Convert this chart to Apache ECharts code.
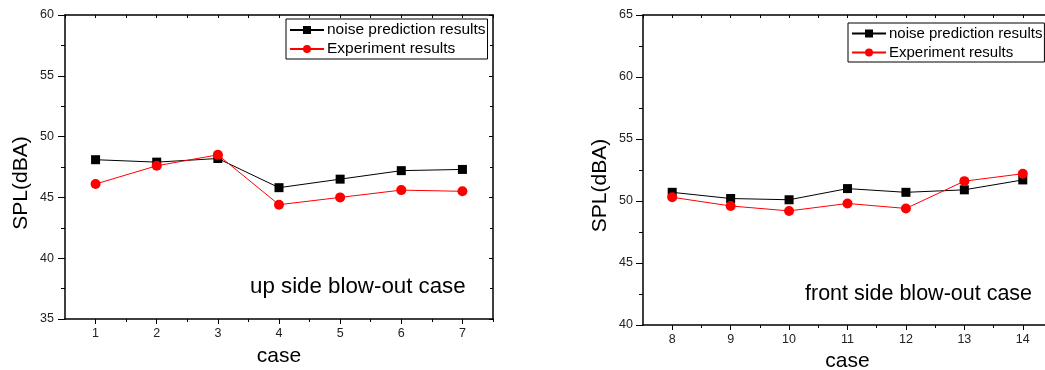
<!DOCTYPE html>
<html>
<head>
<meta charset="utf-8">
<script src="https://cdn.jsdelivr.net/npm/echarts@6/dist/echarts.min.js"></script>
<style>
html,body{margin:0;padding:0;background:#fff;}
#chart{width:1045px;height:370px;}
</style>
</head>
<body>
<div id="chart"></div>
<script>
// ---- data ----
var casesUp = [1, 2, 3, 4, 5, 6, 7];
var predictionUp = [48.1, 47.9, 48.2, 45.8, 46.5, 47.2, 47.3];
var experimentUp = [46.1, 47.6, 48.5, 44.4, 45.0, 45.6, 45.5];

var casesFront = [8, 9, 10, 11, 12, 13, 14];
var predictionFront = [50.7, 50.2, 50.1, 51.0, 50.7, 50.9, 51.7];
var experimentFront = [50.3, 49.6, 49.2, 49.8, 49.4, 51.6, 52.2];

var yRangeUp = [35, 60];
var yRangeFront = [40, 65];
var xRangeUp = [0.5, 7.5];
var xRangeFront = [7.5, 14.5];
var seriesNames = ['noise prediction results', 'Experiment results'];
var yTitle = 'SPL(dBA)';
var xTitle = 'case';
var noteUp = 'up side blow-out case';
var noteFront = 'front side blow-out case';

var FONT = 'Liberation Sans, Arial, sans-serif';
var AX = {color: '#000', width: 1.5};

function halves(cats) {
  var out = [cats[0] - 0.5];
  cats.forEach(function (c) { out.push(c, c + 0.5); });
  return out;
}
function mids(cats) {
  return cats.map(function (c) { return c + 0.5; });
}

function xAxesFor(gridIndex, cats, range, nameGap) {
  return [
    { // main axis with labels
      type: 'value', gridIndex: gridIndex, position: 'bottom',
      min: range[0], max: range[1],
      axisLine: {show: true, lineStyle: AX},
      axisTick: {show: true, customValues: cats, length: 5, lineStyle: {color: '#000', width: 1}},
      axisLabel: {customValues: cats, color: '#222', fontSize: 12.5, fontFamily: FONT, margin: 8},
      splitLine: {show: false},
      name: xTitle, nameLocation: 'middle', nameGap: nameGap,
      nameTextStyle: {color: '#000', fontSize: 21, fontFamily: FONT}
    },
    { // minor ticks between cases
      type: 'value', gridIndex: gridIndex, position: 'bottom',
      min: range[0], max: range[1],
      axisLine: {show: false},
      axisTick: {show: true, customValues: mids(cats), length: 3, lineStyle: {color: '#000', width: 1}},
      axisLabel: {show: false}, splitLine: {show: false}
    },
    { // top frame with inward ticks
      type: 'value', gridIndex: gridIndex, position: 'top',
      min: range[0], max: range[1],
      axisLine: {show: true, lineStyle: AX},
      axisTick: {show: true, inside: true, customValues: halves(cats), length: 3, lineStyle: {color: '#000', width: 1}},
      axisLabel: {show: false}, splitLine: {show: false}
    }
  ];
}

function yAxesFor(gridIndex, range, labelMargin) {
  return [
    {
      type: 'value', gridIndex: gridIndex, position: 'left',
      min: range[0], max: range[1], interval: 5,
      axisLine: {show: true, lineStyle: AX},
      axisTick: {length: 7, lineStyle: {color: '#000', width: 1}},
      minorTick: {show: true, splitNumber: 2, length: 4, lineStyle: {color: '#000', width: 1}},
      axisLabel: {color: '#222', fontSize: 12.5, fontFamily: FONT, margin: labelMargin},
      splitLine: {show: false}
    },
    {
      type: 'value', gridIndex: gridIndex, position: 'right',
      min: range[0], max: range[1], interval: 5,
      axisLine: {show: true, lineStyle: AX},
      axisTick: {inside: true, length: 4, lineStyle: {color: '#000', width: 1}},
      minorTick: {show: true, splitNumber: 2, length: 3, lineStyle: {color: '#000', width: 1}},
      axisLabel: {show: false}, splitLine: {show: false}
    }
  ];
}

function pairs(xs, ys) {
  return xs.map(function (x, i) { return [x, ys[i]]; });
}

function seriesFor(xi, yi, cats, pred, exp) {
  return [
    {
      name: seriesNames[0], type: 'line', xAxisIndex: xi, yAxisIndex: yi,
      data: pairs(cats, pred), symbol: 'rect', symbolSize: 9, showSymbol: true,
      lineStyle: {color: '#000', width: 1}, itemStyle: {color: '#000'},
      z: 3, animation: false, clip: false
    },
    {
      name: seriesNames[1], type: 'line', xAxisIndex: xi, yAxisIndex: yi,
      data: pairs(cats, exp), symbol: 'circle', symbolSize: 10, showSymbol: true,
      lineStyle: {color: '#ff0000', width: 1}, itemStyle: {color: '#ff0000'},
      z: 4, animation: false, clip: false
    }
  ];
}

function legendFor(left, top, fs, gap) {
  return {
    orient: 'vertical', left: left, top: top,
    data: seriesNames,
    itemWidth: 34, itemHeight: 10, itemGap: gap,
    borderColor: '#000', borderWidth: 1, padding: [3, 2, 2, 3],
    textStyle: {color: '#000', fontSize: fs, fontFamily: FONT, padding: [0, 0, 0, -2]},
    selectedMode: false
  };
}

var chart = echarts.init(document.getElementById('chart'), null, {renderer: 'canvas'});
var xa = xAxesFor(0, casesUp, xRangeUp, 27).concat(xAxesFor(1, casesFront, xRangeFront, 25));
var ya = yAxesFor(0, yRangeUp, 11).concat(yAxesFor(1, yRangeFront, 10));

chart.setOption({
  backgroundColor: '#fff',
  animation: false,
  grid: [
    {left: 65, top: 15, width: 428, height: 304, containLabel: false, outerBoundsMode: 'none'},
    {left: 643, top: 15, width: 409, height: 310, containLabel: false, outerBoundsMode: 'none'}
  ],
  legend: [legendFor(286, 19, 15.5, 3), legendFor(848, 23, 15, 4)],
  xAxis: xa,
  yAxis: ya,
  series: seriesFor(0, 0, casesUp, predictionUp, experimentUp)
    .concat(seriesFor(3, 2, casesFront, predictionFront, experimentFront)),
  graphic: [
    {type: 'text', left: 250, top: 276, style: {text: noteUp, fill: '#000', fontSize: 22.3, fontFamily: FONT}},
    {type: 'text', left: 805, top: 283, style: {text: noteFront, fill: '#000', fontSize: 21.5, fontFamily: FONT}},
    {type: 'text', x: 21, y: 183, rotation: Math.PI / 2,
     style: {text: yTitle, fill: '#000', fontSize: 21, fontFamily: FONT, align: 'center', verticalAlign: 'middle'}},
    {type: 'text', x: 600, y: 185.5, rotation: Math.PI / 2,
     style: {text: yTitle, fill: '#000', fontSize: 21, fontFamily: FONT, align: 'center', verticalAlign: 'middle'}}
  ]
});
</script>
</body>
</html>
